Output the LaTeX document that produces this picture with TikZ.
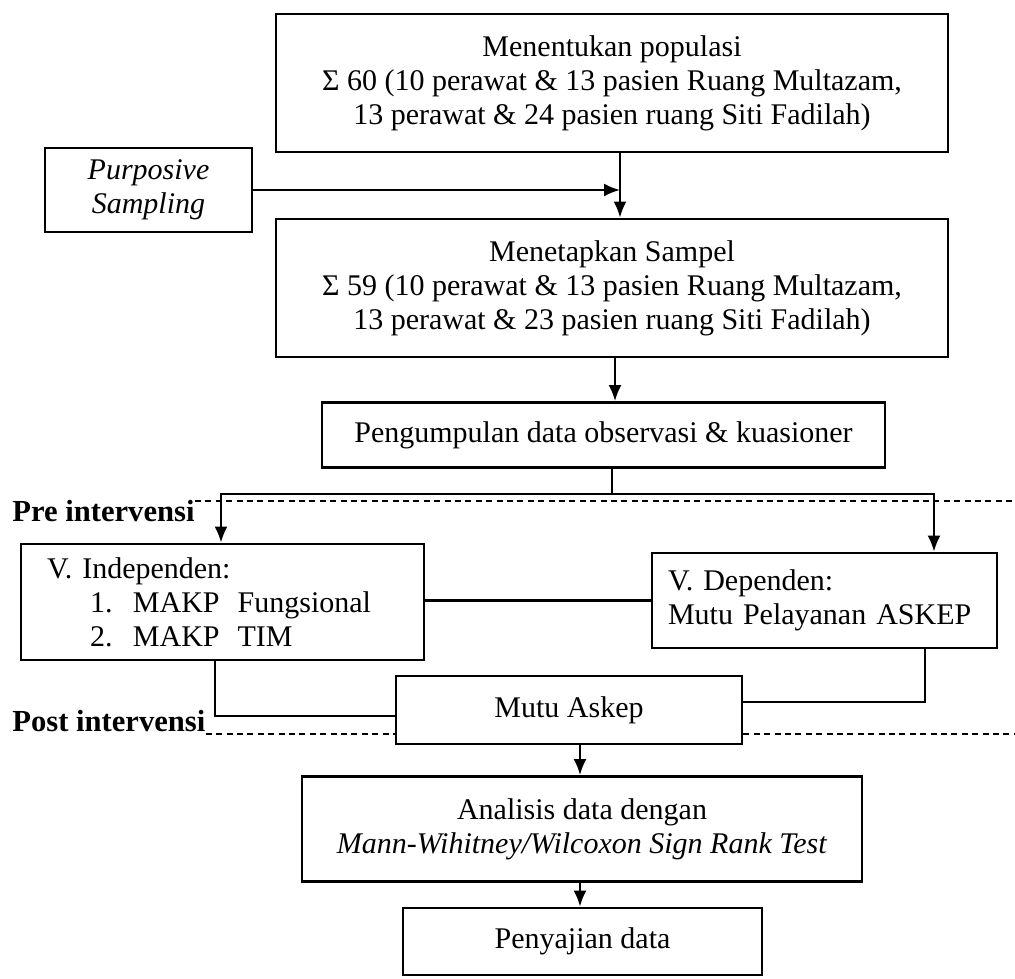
\documentclass[tikz,border=0pt]{standalone}
\usepackage{fontspec}
\setmainfont{Liberation Serif}
\usetikzlibrary{arrows.meta,calc}
\begin{document}
\begin{tikzpicture}[x=0.5pt,y=-0.5pt,
  every node/.style={font=\fontsize{15}{17}\selectfont},
  box/.style={draw,line width=1.4pt,align=center,inner sep=2pt},
  link/.style={line width=1.1pt},
  arr/.style={line width=1.1pt,-{Latex[length=8pt,width=6.5pt]}},
  dashline/.style={line width=1pt,dash pattern=on 3pt off 2.2pt},
  phase/.style={font=\bfseries\fontsize{15.3}{17}\selectfont,inner sep=0pt}
]
\useasboundingbox (0,0) rectangle (1015,978);

% boxes
\node[box,minimum width=336pt,minimum height=69pt] (pop) at (612,83)
  {Menentukan populasi\\Σ 60 (10 perawat \& 13 pasien Ruang Multazam,\\13 perawat \& 24 pasien ruang Siti Fadilah)};
\node[box,minimum width=103.5pt,minimum height=42pt,font=\fontsize{15}{17}\selectfont\itshape] (purp) at (148.5,190)
  {Purposive\\Sampling};
\node[box,minimum width=336pt,minimum height=69pt] (samp) at (612,288)
  {Menetapkan Sampel\\Σ 59 (10 perawat \& 13 pasien Ruang Multazam,\\13 perawat \& 23 pasien ruang Siti Fadilah)};
\node[box,minimum width=281.5pt,minimum height=32.5pt] (coll) at (603.5,435)
  {Pengumpulan data observasi \& kuasioner};
\node[box,align=left,inner xsep=13pt,text width=175.5pt,minimum height=58pt] (indep) at (222.5,602)
  {V. Independen:\\
   \hspace*{21.5pt}\makebox[21.5pt][l]{1.}MAKP\hspace{0.6em}Fungsional\\
   \hspace*{21.5pt}\makebox[21.5pt][l]{2.}MAKP\hspace{0.6em}TIM};
\node[box,align=left,inner xsep=8pt,text width=156.5pt,minimum height=47.5pt] (dep) at (824.5,600.5)
  {V. Dependen:\\Mutu Pelayanan ASKEP};
\node[box,minimum width=173pt,minimum height=34pt] (mutu) at (569,710) {Mutu Askep};
\node[box,minimum width=280pt,minimum height=52.5pt] (anal) at (582,829)
  {Analisis data dengan\\\textit{Mann-Wihitney/Wilcoxon Sign Rank Test}};
\node[box,minimum width=179.5pt,minimum height=33.5pt] (pen) at (582.5,941.5) {Penyajian data};

% phase labels
\node[phase,anchor=west] (pre) at (12,511) {Pre intervensi};
\node[phase,anchor=west] (post) at (12,721) {Post intervensi};

% connectors
\coordinate (v1) at (620,190);
\draw[arr] (purp.east) -- (v1);
\draw[arr] (pop.south -| v1) -- (samp.north -| v1);
\coordinate (v2) at (615,0);
\draw[arr] (samp.south -| v2) -- (coll.north -| v2);
\coordinate (jl) at (221,494);
\coordinate (jr) at (934,494);
\coordinate (jm) at (612,494);
\draw[link] (coll.south -| jm) -- (jm);
\draw[arr] (jm) -| (indep.north -| jl);
\draw[arr] (jm) -| (dep.north -| jr);
\draw[link] (indep.east |- dep.west) -- (dep.west);
\coordinate (c1) at (215,716);
\draw[link] (indep.south -| c1) |- (mutu.west |- c1);
\coordinate (c2) at (925,702);
\draw[link] (dep.south -| c2) |- (mutu.east |- c2);
\coordinate (v3) at (580,0);
\draw[arr] (mutu.south -| v3) -- (anal.north -| v3);
\draw[arr] (anal.south -| v3) -- (pen.north -| v3);

% dashed phase lines
\coordinate (preend) at (1015,501);
\draw[dashline] (pre.east |- preend) -- (preend);
\coordinate (postend) at (1015,734);
\draw[dashline] (post.east |- postend) -- (mutu.west |- postend);
\draw[dashline] (mutu.east |- postend) -- (postend);
\end{tikzpicture}
\end{document}
